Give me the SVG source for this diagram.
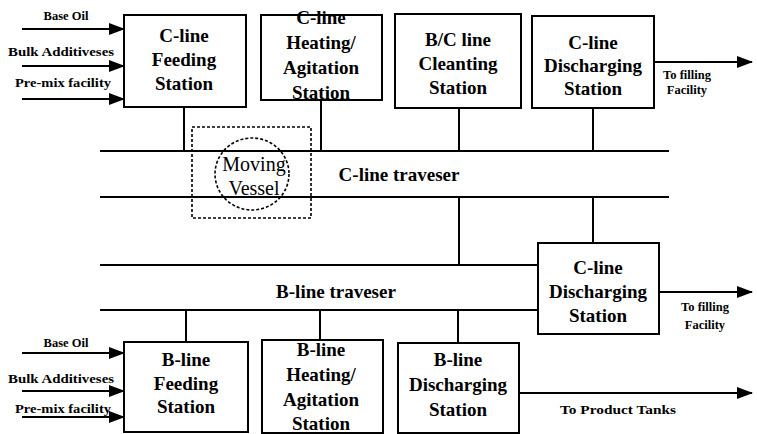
<svg xmlns="http://www.w3.org/2000/svg" width="757" height="434" viewBox="0 0 757 434">
<style>
.box{fill:#fff;stroke:#000;stroke-width:2}
.t{font-family:'Liberation Serif',Tinos,'DejaVu Serif','Times New Roman',serif;font-weight:bold;font-size:19px;text-anchor:middle;fill:#000}
.s{font-family:'Liberation Serif',Tinos,'DejaVu Serif','Times New Roman',serif;font-weight:bold;font-size:12.5px;text-anchor:middle;fill:#000}
.m{font-family:'Liberation Serif',Tinos,'DejaVu Serif','Times New Roman',serif;font-size:20px;text-anchor:middle;fill:#000}
.ln{stroke:#000;stroke-width:2;fill:none}
.ar{stroke:#000;stroke-width:2;fill:none;marker-end:url(#ah)}
.dash{stroke:#000;stroke-width:1.6;fill:none;stroke-dasharray:3 2}
</style>
<defs>
<marker id="ah" markerWidth="16" markerHeight="12" refX="15" refY="6" orient="auto" markerUnits="userSpaceOnUse">
<path d="M0,0 L16,6 L0,12 Z" fill="#000"/>
</marker>
</defs>
<g id="connectors">
<line class="ln" x1="184" y1="107" x2="184" y2="151"/>
<line class="ln" x1="321" y1="100" x2="321" y2="151"/>
<line class="ln" x1="459" y1="107" x2="459" y2="151"/>
<line class="ln" x1="593" y1="108" x2="593" y2="151"/>
<line class="ln" x1="100" y1="151" x2="669" y2="151"/>
<line class="ln" x1="100" y1="197" x2="669" y2="197"/>
<line class="ln" x1="459" y1="197" x2="459" y2="265"/>
<line class="ln" x1="593" y1="197" x2="593" y2="243"/>
<line class="ln" x1="100" y1="265" x2="538" y2="265"/>
<line class="ln" x1="100" y1="310" x2="538" y2="310"/>
<line class="ln" x1="186" y1="310" x2="186" y2="342"/>
<line class="ln" x1="320" y1="310" x2="320" y2="340"/>
<line class="ln" x1="458" y1="310" x2="458" y2="343"/>
<line class="ar" x1="22" y1="29" x2="124" y2="29"/>
<line class="ar" x1="22" y1="66" x2="124" y2="66"/>
<line class="ar" x1="22" y1="99" x2="124" y2="99"/>
<line class="ar" x1="22" y1="353" x2="124" y2="353"/>
<line class="ar" x1="22" y1="391" x2="124" y2="391"/>
<line class="ar" x1="22" y1="417" x2="124" y2="417"/>
<line class="ar" x1="654" y1="62" x2="752" y2="62"/>
<line class="ar" x1="659" y1="292" x2="752" y2="292"/>
<line class="ar" x1="519" y1="393" x2="752" y2="393"/>
</g>
<g id="labels">
<text class="s" x="66" y="20">Base Oil</text>
<text class="s" x="61" y="56" textLength="106" lengthAdjust="spacingAndGlyphs">Bulk Additiveses</text>
<text class="s" x="63" y="87" textLength="96" lengthAdjust="spacingAndGlyphs">Pre-mix facility</text>
<text class="s" x="66" y="347">Base Oil</text>
<text class="s" x="61" y="383" textLength="106" lengthAdjust="spacingAndGlyphs">Bulk Additiveses</text>
<text class="s" x="63" y="413" textLength="96" lengthAdjust="spacingAndGlyphs">Pre-mix facility</text>
<text class="s" x="687" y="79">To filling</text>
<text class="s" x="687" y="94">Facility</text>
<text class="s" x="705" y="311">To filling</text>
<text class="s" x="705" y="329">Facility</text>
<text class="s" x="618" y="414" textLength="116" lengthAdjust="spacingAndGlyphs">To Product Tanks</text>
<text class="t" x="399" y="181">C-line traveser</text>
<text class="t" x="336" y="298">B-line traveser</text>
</g>
<g id="c-feeding">
<rect class="box" x="124" y="15" width="122" height="92"/>
<text class="t" x="184" y="42">C-line</text>
<text class="t" x="184" y="66">Feeding</text>
<text class="t" x="184" y="90">Station</text>
</g>
<g id="c-heating">
<rect class="box" x="261" y="15" width="121" height="85"/>
<text class="t" x="321" y="24">C-line</text>
<text class="t" x="321" y="49">Heating/</text>
<text class="t" x="321" y="74">Agitation</text>
<text class="t" x="321" y="99">Station</text>
</g>
<g id="bc-cleaning">
<rect class="box" x="395" y="14" width="126" height="94"/>
<text class="t" x="458" y="46">B/C line</text>
<text class="t" x="458" y="70">Cleanting</text>
<text class="t" x="458" y="94">Station</text>
</g>
<g id="c-discharging">
<rect class="box" x="532" y="16" width="122" height="92"/>
<text class="t" x="593" y="49">C-line</text>
<text class="t" x="593" y="72">Discharging</text>
<text class="t" x="593" y="95">Station</text>
</g>
<g id="moving-vessel">
<rect class="dash" x="192" y="127" width="119" height="91"/>
<ellipse class="dash" cx="252" cy="174" rx="37" ry="36"/>
<text class="m" x="254" y="171">Moving</text>
<text class="m" x="254" y="195">Vessel</text>
</g>
<g id="c-discharging-2">
<rect class="box" x="538" y="243" width="121" height="91"/>
<text class="t" x="598" y="274">C-line</text>
<text class="t" x="598" y="298">Discharging</text>
<text class="t" x="598" y="322">Station</text>
</g>
<g id="b-feeding">
<rect class="box" x="124" y="342" width="124" height="90"/>
<text class="t" x="186" y="366">B-line</text>
<text class="t" x="186" y="390">Feeding</text>
<text class="t" x="186" y="413">Station</text>
</g>
<g id="b-heating">
<rect class="box" x="262" y="340" width="121" height="93"/>
<text class="t" x="321" y="356">B-line</text>
<text class="t" x="321" y="381">Heating/</text>
<text class="t" x="321" y="406">Agitation</text>
<text class="t" x="321" y="430">Station</text>
</g>
<g id="b-discharging">
<rect class="box" x="398" y="343" width="121" height="90"/>
<text class="t" x="458" y="366">B-line</text>
<text class="t" x="458" y="391">Discharging</text>
<text class="t" x="458" y="416">Station</text>
</g>
</svg>
